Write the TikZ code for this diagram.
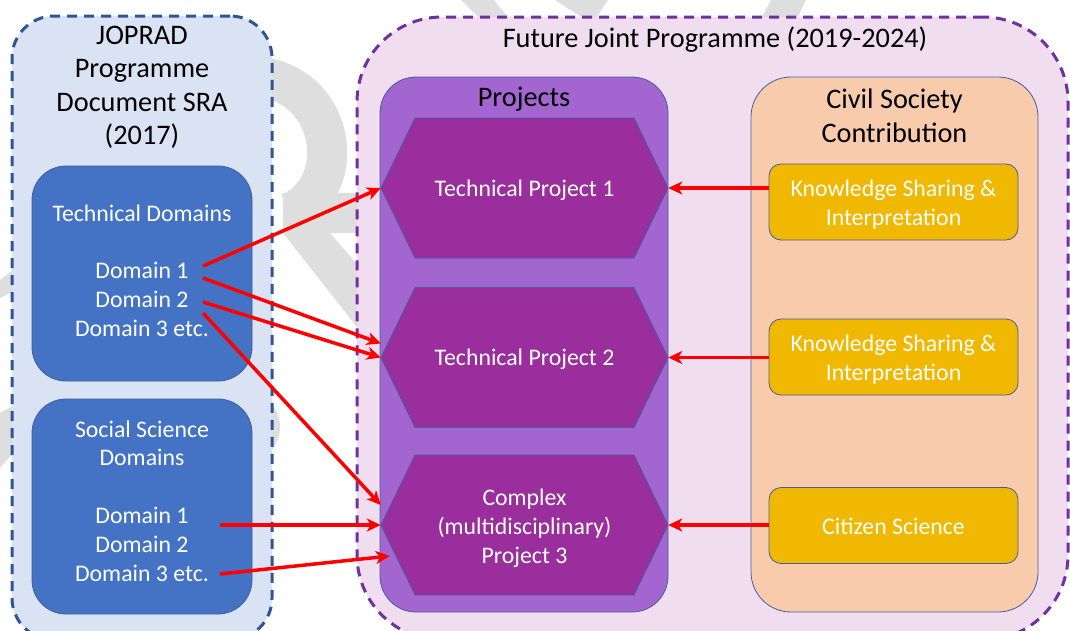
\documentclass[tikz,border=0pt]{standalone}
\usepackage{fontspec}
\setmainfont{Carlito}
\usetikzlibrary{arrows.meta,calc}
\definecolor{lpfill}{HTML}{DAE3F3}
\definecolor{lpdraw}{HTML}{2F5597}
\definecolor{rpfill}{HTML}{F0DEF0}
\definecolor{rpdraw}{HTML}{7030A0}
\definecolor{projfill}{HTML}{A366D0}
\definecolor{hexfill}{HTML}{9A2E9C}
\definecolor{civfill}{HTML}{F8CBAD}
\definecolor{orangefill}{HTML}{F0B800}
\definecolor{bluefill}{HTML}{4472C4}
\definecolor{thinborder}{HTML}{41609C}
\definecolor{wmgray}{HTML}{DEDEDE}
\definecolor{arrowred}{HTML}{FF0000}
\begin{document}
\begin{tikzpicture}[x=1pt,y=-1pt,
  panel/.style={rectangle,line width=3pt,dash pattern=on 10pt off 7pt,inner sep=0pt},
  lpanel/.style={panel,draw=lpdraw,fill=lpfill,rounded corners=42pt},
  rpanel/.style={panel,draw=rpdraw,fill=rpfill,rounded corners=85pt},
  inbox/.style={rectangle,draw=thinborder,line width=0.8pt,inner sep=0pt},
  projbox/.style={inbox,fill=projfill,rounded corners=36pt,minimum width=288pt,minimum height=535pt},
  civbox/.style={inbox,fill=civfill,rounded corners=40pt,minimum width=287pt,minimum height=535pt},
  domainbox/.style={inbox,fill=bluefill,rounded corners=34pt,minimum width=220pt,minimum height=215pt},
  orangebox/.style={inbox,fill=orangefill,rounded corners=12pt,minimum width=249pt,minimum height=76pt},
  innertext/.style={inner sep=0pt,text=white,align=center,font=\fontsize{23.8}{28.8}\selectfont},
  hexshape/.style={fill=hexfill,draw=thinborder,line width=0.8pt},
  hexframe/.style={rectangle,inner sep=0pt,minimum width=287pt,minimum height=140pt},
  titletext/.style={align=center,inner sep=0pt,font=\fontsize{28.3}{33.5}\selectfont},
  link/.style={draw=arrowred,line width=3.5pt,-{Stealth[length=14pt,width=13pt,inset=4pt]}},
  wm/.style={fill=wmgray}
]
\useasboundingbox (0,0) rectangle (1070,630);

% faint watermark shapes in the background
\draw[wmgray,line width=40pt] (250,76) .. controls (335,78) and (352,185) .. (290,213);
\fill[wm] (283,193) rectangle (365,233);
\fill[wm] (283,233) -- (330,233) -- (375,285) -- (375,350) -- cycle;
\fill[wm] (240,427) ellipse [x radius=40pt, y radius=38pt];
\fill[wm] (0,280) -- (20,265) -- (20,288) -- (0,298) -- cycle;
\fill[wm] (0,413) -- (20,402) -- (20,445) -- (0,468) -- cycle;
\fill[wm] (461,0) -- (494,0) -- (514,25) -- (486,25) -- cycle;
\fill[wm] (555,0) -- (608,0) -- (592,24) -- cycle;
\fill[wm] (771,0) -- (806,0) -- (794,25) -- (758,25) -- cycle;

% panels
\node[lpanel,minimum width=260pt,minimum height=624pt] (left) at (142,328) {};
\node[rpanel,minimum width=711pt,minimum height=623pt] (right) at (712.5,328.5) {};

\node[titletext] (ltitle) at (142,87.5) {JOPRAD\\Programme\\Document SRA\\(2017)};
\node[titletext] (rtitle) at (715,40) {Future Joint Programme (2019-2024)};

% domain boxes
\node[domainbox] (td) at (142,273.5) {};
\node[innertext] (tdt) at (142,270.5) {Technical Domains\\[28.8pt]Domain 1\\Domain 2\\Domain 3 etc.};
\node[domainbox] (sd) at (142,506.5) {};
\node[innertext] (sdt) at (142,501) {Social Science\\Domains\\[28.8pt]Domain 1\\Domain 2\\Domain 3 etc.};

% projects and civil society columns
\node[projbox] (proj) at (524,344.5) {};
\node[titletext] (projt) at (524,99) {Projects};
\node[civbox] (civ) at (894.5,344.5) {};
\node[titletext] (civt) at (894.5,116) {Civil Society\\Contribution};

% hexagons
\foreach \cy in {188,357.5,525}{
  \draw[hexshape] (524.5,\cy) +(-143.5,0) -- +(-109.5,-70) -- +(109.5,-70) -- +(143.5,0)
     -- +(109.5,70) -- +(-109.5,70) -- cycle;
}
\node[hexframe] (tp1) at (524.5,188) {};
\node[hexframe] (tp2) at (524.5,357.5) {};
\node[hexframe] (tp3) at (524.5,525) {};
\node[innertext] (tp1t) at (524.5,190) {Technical Project 1};
\node[innertext] (tp2t) at (524.5,359.5) {Technical Project 2};
\node[innertext] (tp3t) at (524.5,528) {Complex\\(multidisciplinary)\\Project 3};

% civil society boxes
\node[orangebox] (ks1) at (893.5,202) {};
\node[innertext] (ks1t) at (893.5,204.5) {Knowledge Sharing \&\\Interpretation};
\node[orangebox] (ks2) at (893.5,357) {};
\node[innertext] (ks2t) at (893.5,359.5) {Knowledge Sharing \&\\Interpretation};
\node[orangebox] (cs) at (893.5,525.5) {};
\node[innertext] (cst) at (893.5,526.5) {Citizen Science};

% arrow start points
\coordinate (d1a) at (203,266);
\coordinate (d1b) at (203,278);
\coordinate (d2) at (203,302);
\coordinate (d3) at (203,313);
\coordinate (s1) at (220,525);
\coordinate (s3) at (220,574);

\draw[link] (d1a) -- (tp1.west);
\draw[link] (d1b) -- ([yshift=14pt]tp2.west);
\draw[link] (d2) -- (tp2.west);
\draw[link] (d3) -- ([yshift=20pt]tp3.west);
\draw[link] (s1) -- (tp3.west);
\draw[link] (s3) -- ([xshift=9pt,yshift=-31pt]tp3.west);

\draw[link] (ks1.west |- tp1.east) -- (tp1.east);
\draw[link] (ks2.west |- tp2.east) -- (tp2.east);
\draw[link] (cs.west |- tp3.east) -- (tp3.east);
\end{tikzpicture}
\end{document}
